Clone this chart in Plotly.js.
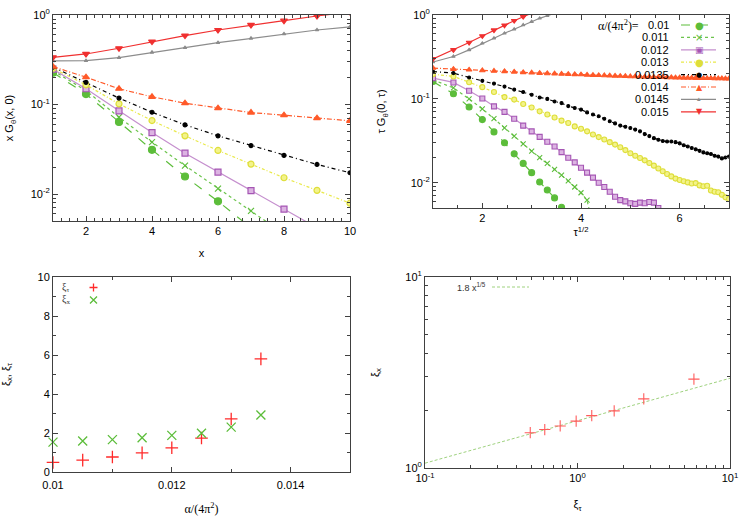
<!DOCTYPE html>
<html>
<head>
<meta charset="utf-8">
<script src="https://cdn.plot.ly/plotly-3.0.1.min.js"></script>
<style>
  body { margin: 0; background: #fff; }
  #plot { width: 753px; height: 518px; }
</style>
</head>
<body>
<div id="plot"></div>
<script>
// alpha/(4 pi^2) labels of the eight runs
var runLabels = ["0.01", "0.011", "0.012", "0.013", "0.0135", "0.014", "0.0145", "0.015"];

// top left: x G(x,0) against x
var xSites = [1, 2, 3, 4, 5, 6, 7, 8, 9, 10];
var gx010  = [0.227, 0.131, 0.064, 0.0312, 0.0157, 0.0083, 0.0042];
var gx011  = [0.239, 0.143, 0.0722, 0.038, 0.0208, 0.0115, 0.0065, 0.0036];
var gx012  = [0.248, 0.150, 0.085, 0.0486, 0.0286, 0.0176, 0.0109, 0.0068, 0.0042, 0.0026];
var gx013  = [0.254, 0.166, 0.1017, 0.0662, 0.0447, 0.0307, 0.0216, 0.0152, 0.011, 0.0079];
var gx0135 = [0.262, 0.177, 0.118, 0.082, 0.0593, 0.0447, 0.0348, 0.027, 0.0214, 0.0173];
var gx014  = [0.265, 0.202, 0.150, 0.122, 0.1035, 0.091, 0.0813, 0.076, 0.0704, 0.0658];
var gx0145 = [0.307, 0.309, 0.334, 0.383, 0.432, 0.491, 0.549, 0.614, 0.68, 0.735];
var gx015  = [0.337, 0.367, 0.425, 0.505, 0.589, 0.68, 0.774, 0.864, 0.975, 1.08];

// top right: tau G(0,tau) against tau^(1/2), tau = 1..49
var tau = [1,2,3,4,5,6,7,8,9,10,11,12,13,14,15,16,17,18,19,20,21,22,23,24,25,
           26,27,28,29,30,31,32,33,34,35,36,37,38,39,40,41,42,43,44,45,46,47,48,49];
var gt010  = [0.161, 0.115, 0.080, 0.0566, 0.0404, 0.030, 0.0221, 0.017, 0.0132, 0.0102, 0.0082, 0.0066, 0.0051, 0.0038];
var gt011  = [0.169, 0.135, 0.0997, 0.076, 0.058, 0.045, 0.0359, 0.029, 0.0238, 0.0199, 0.017, 0.0144,
              0.0123, 0.0105, 0.0089, 0.0076, 0.0062, 0.003];
var gt012  = [0.177, 0.157, 0.125, 0.101, 0.0815, 0.070, 0.058, 0.048, 0.041, 0.0352, 0.0308, 0.027,
              0.0232, 0.0199, 0.0175, 0.0151, 0.0132, 0.0115, 0.010, 0.0089, 0.0078, 0.0068, 0.0062, 0.0060,
              0.0057, 0.0056, 0.0058, 0.0057, 0.0059, 0.0058, 0.0050, 0.0044];
var gt013  = [0.197, 0.185, 0.158, 0.138, 0.121, 0.105, 0.098, 0.087, 0.079,
              0.071, 0.065, 0.060, 0.055, 0.0516, 0.047, 0.044, 0.041, 0.0376, 0.035,
              0.0328, 0.0305, 0.0285, 0.0265, 0.0245, 0.0225, 0.021, 0.0197, 0.0185, 0.0172,
              0.016, 0.0148, 0.0137, 0.0127, 0.0119, 0.0112, 0.0108, 0.0104, 0.0101, 0.0098,
              0.0099, 0.0093, 0.0091, 0.0092, 0.0081, 0.0078, 0.0077, 0.0072, 0.0067, 0.0064];
var gt0135 = [0.212, 0.203, 0.180, 0.164, 0.152, 0.140, 0.129, 0.121, 0.112,
              0.104, 0.100, 0.093, 0.089, 0.082, 0.078, 0.0745, 0.069, 0.065, 0.062,
              0.058, 0.054, 0.051, 0.048, 0.0465, 0.045, 0.043, 0.041, 0.038, 0.036,
              0.034, 0.0325, 0.0315, 0.031, 0.031, 0.0305, 0.0295, 0.028, 0.027, 0.026,
              0.025, 0.024, 0.023, 0.0225, 0.022, 0.021, 0.0205, 0.0195, 0.020, 0.0205];
var gt014  = [0.233, 0.226, 0.222, 0.218, 0.215, 0.213, 0.210, 0.207, 0.205,
              0.203, 0.201, 0.200, 0.198, 0.197, 0.196, 0.195, 0.193, 0.192, 0.191,
              0.190, 0.189, 0.188, 0.187, 0.186, 0.185, 0.185, 0.184, 0.183, 0.183,
              0.182, 0.181, 0.181, 0.180, 0.180, 0.179, 0.179, 0.178, 0.178, 0.178,
              0.177, 0.177, 0.176, 0.176, 0.176, 0.175, 0.175, 0.175, 0.174, 0.174];
var gt0145 = [0.275, 0.32, 0.384, 0.46, 0.528, 0.605, 0.676, 0.76, 0.833, 0.913, 0.98, 1.05, 1.12];
var gt015  = [0.300, 0.384, 0.47, 0.563, 0.66, 0.755, 0.855, 0.955, 1.06, 1.15];

// bottom: correlation lengths
var alphaVals = [0.01, 0.0105, 0.011, 0.0115, 0.012, 0.0125, 0.013, 0.0135];
var xiTau = [0.49, 0.61, 0.77, 0.98, 1.24, 1.74, 2.72, 5.8];
var xiX   = [1.53, 1.59, 1.66, 1.76, 1.88, 1.99, 2.3, 2.92];
var fitX = [0.1, 10];
var fitY = [1.06, 2.95];

// tick labels
var decadeVals = [0.01, 0.1, 1];
var decadeText = ["10<sup>-2</sup>", "10<sup>-1</sup>", "10<sup>0</sup>"];
var alphaTickVals = [0.01, 0.012, 0.014];
var alphaTickText = ["0.01", "0.012", "0.014"];
var xiTickVals = [0.1, 1, 10];
var xiTickText = ["10<sup>-1</sup>", "10<sup>0</sup>", "10<sup>1</sup>"];

var sqrtTau = tau.map(t => Math.sqrt(t));

// per-run styles, same order as runLabels
var styles = [
  {color: "#5cbd3a", dash: "dash", symbol: "circle", size: 7, mcolor: "#5cbd3a", mline: "#5cbd3a", glyph: "●", gsize: 10},
  {color: "#6cc44c", dash: "dot", symbol: "x-thin-open", size: 6, mcolor: "#5cbd3a", mline: "#5cbd3a", glyph: "×", gsize: 10},
  {color: "#c58fce", dash: "solid", symbol: "square", size: 6, mcolor: "#dcb4e2", mline: "#a556b4", glyph: "▣", gsize: 9},
  {color: "#e9e94a", dash: "3px,2px,1px,2px", symbol: "circle", size: 6, mcolor: "#f3f38a", mline: "#dede3a", glyph: "●", gsize: 10},
  {color: "#000000", dash: "4px,3px,1px,3px", symbol: "circle", size: 4, mcolor: "#000000", mline: "#000000", glyph: "●", gsize: 7},
  {color: "#ff5a2a", dash: "5px,2px,1px,2px", symbol: "triangle-up", size: 6, mcolor: "#ff5a2a", mline: "#ff5a2a", glyph: "▲", gsize: 8},
  {color: "#8c8c8c", dash: "solid", symbol: "triangle-up", size: 3, mcolor: "#8c8c8c", mline: "#8c8c8c", glyph: "▴", gsize: 7},
  {color: "#f03030", dash: "solid", symbol: "triangle-down", size: 6, mcolor: "#f03030", mline: "#f03030", glyph: "▼", gsize: 8}
];

var gxSeries = [gx010, gx011, gx012, gx013, gx0135, gx014, gx0145, gx015];
var gtSeries = [gt010, gt011, gt012, gt013, gt0135, gt014, gt0145, gt015];

var data = [];
gxSeries.forEach(function(ys, i) {
  var s = styles[i];
  data.push({
    x: xSites.slice(0, ys.length), y: ys, xaxis: "x", yaxis: "y",
    type: "scatter", mode: "lines+markers", name: runLabels[i], showlegend: false,
    line: {color: s.color, width: 1.2, dash: s.dash},
    marker: {symbol: s.symbol, size: s.size, color: s.mcolor, line: {color: s.mline, width: 1.2}}
  });
});
gtSeries.forEach(function(ys, i) {
  var s = styles[i];
  data.push({
    x: sqrtTau.slice(0, ys.length), y: ys, xaxis: "x2", yaxis: "y2",
    type: "scatter", mode: "lines+markers", name: runLabels[i], showlegend: false,
    line: {color: s.color, width: 1.2, dash: s.dash},
    marker: {symbol: s.symbol, size: Math.max(s.size - 1, 3), color: s.mcolor, line: {color: s.mline, width: 1.1}}
  });
});

// bottom left (open symbols take their stroke colour from marker.color)
data.push({
  x: alphaVals, y: xiTau, xaxis: "x3", yaxis: "y3", type: "scatter", mode: "markers",
  name: "xi_tau", showlegend: false, cliponaxis: false,
  marker: {symbol: "cross-thin-open", size: 9, color: "#ff2a2a", line: {width: 1.3}}
});
data.push({
  x: alphaVals, y: xiX, xaxis: "x3", yaxis: "y3", type: "scatter", mode: "markers",
  name: "xi_x", showlegend: false, cliponaxis: false,
  marker: {symbol: "x-thin-open", size: 9, color: "#5cbd3a", line: {width: 1.3}}
});

// bottom right
data.push({
  x: fitX, y: fitY, xaxis: "x4", yaxis: "y4", type: "scatter", mode: "lines",
  name: "fit", showlegend: false,
  line: {color: "#9fd27f", width: 1, dash: "3px,2px"}
});
data.push({
  x: xiTau, y: xiX, xaxis: "x4", yaxis: "y4", type: "scatter", mode: "markers",
  name: "xi", showlegend: false, cliponaxis: false,
  marker: {symbol: "cross-thin-open", size: 8, color: "#ff5c5c", line: {width: 1.1}}
});

function px(x) { return x / 753; }
function py(y) { return 1 - y / 518; }

var tickFont = {family: "Liberation Sans, Arial, sans-serif", size: 11, color: "#000"};
var titleFont = {family: "Liberation Sans, Arial, sans-serif", size: 11, color: "#000"};

function axis(extra) {
  var a = {
    showline: true, linecolor: "#404040", linewidth: 1, mirror: "allticks",
    ticks: "inside", ticklen: 5, tickcolor: "#404040", tickwidth: 1,
    showgrid: false, zeroline: false, tickfont: tickFont
  };
  for (var k in extra) a[k] = extra[k];
  return a;
}
var logMinor = {ticks: "inside", ticklen: 3, tickcolor: "#404040", dtick: "D1", showgrid: false};

var layout = {
  width: 753, height: 518,
  margin: {l: 0, r: 0, t: 0, b: 0},
  paper_bgcolor: "#fff", plot_bgcolor: "#fff",
  showlegend: false,
  xaxis: axis({domain: [px(53), px(350)], range: [1, 10], anchor: "y", dtick: 2,
    minor: {ticks: "inside", ticklen: 3, tickcolor: "#404040", dtick: 0.25},
    title: {text: "x", font: titleFont, standoff: 13}}),
  yaxis: axis({domain: [py(221), py(15)], type: "log", range: [Math.log10(0.005), 0], anchor: "x",
    tickvals: decadeVals, ticktext: decadeText, minor: logMinor,
    title: {text: "x G<sub>θ</sub>(x, 0)", font: titleFont, standoff: 14}}),
  xaxis2: axis({domain: [px(433), px(729)], range: [1, 7], anchor: "y2", dtick: 2,
    minor: {ticks: "inside", ticklen: 3, tickcolor: "#404040", dtick: 0.5},
    title: {text: "τ<sup>1/2</sup>", font: titleFont, standoff: 5}}),
  yaxis2: axis({domain: [py(208), py(15)], type: "log", range: [Math.log10(0.005), 0], anchor: "x2",
    tickvals: decadeVals, ticktext: decadeText, minor: logMinor,
    title: {text: "τ G<sub>θ</sub>(0, τ)", font: titleFont, standoff: 22}}),
  xaxis3: axis({domain: [px(53), px(350)], range: [0.01, 0.015], anchor: "y3",
    tickvals: alphaTickVals, ticktext: alphaTickText, ticklabelstandoff: 3,
    minor: {ticks: "inside", ticklen: 3, tickcolor: "#404040", dtick: 0.001, tick0: 0.01},
    title: {text: "α/(4π<sup>2</sup>)", font: {family: "Liberation Serif, serif", size: 12, color: "#000"}, standoff: 14}}),
  yaxis3: axis({domain: [py(472), py(277)], range: [0, 10], anchor: "x3", dtick: 2,
    minor: {ticks: "inside", ticklen: 3, tickcolor: "#404040", dtick: 1},
    title: {text: "ξ<sub>x</sub>, ξ<sub>τ</sub>", font: titleFont, standoff: 27}}),
  xaxis4: axis({domain: [px(425), px(730)], type: "log", range: [-1, 1], anchor: "y4",
    tickvals: xiTickVals, ticktext: xiTickText, minor: logMinor,
    title: {text: "ξ<sub>τ</sub>", font: titleFont, standoff: 17}}),
  yaxis4: axis({domain: [py(468), py(277)], type: "log", range: [0, 1], anchor: "x4",
    tickvals: [1, 10], ticktext: ["10<sup>0</sup>", "10<sup>1</sup>"], minor: logMinor,
    title: {text: "ξ<sub>x</sub>", font: titleFont, standoff: 23}}),
  shapes: [],
  annotations: []
};

// gnuplot style key in the top right panel: label, line sample, marker
var rowY = [25, 37.4, 49.8, 62.2, 74.6, 87, 99.4, 111.8];
layout.annotations.push({
  xref: "paper", yref: "paper", x: px(641), y: py(25), xanchor: "right", yanchor: "middle",
  text: "α/(4π<sup>2</sup>)=", showarrow: false,
  font: {family: "Liberation Serif, serif", size: 12, color: "#000"}
});
runLabels.forEach(function(lab, i) {
  var s = styles[i];
  layout.annotations.push({
    xref: "paper", yref: "paper", x: px(671), y: py(rowY[i]), xanchor: "right", yanchor: "middle",
    text: lab, showarrow: false, font: {family: "Liberation Sans, Arial, sans-serif", size: 11, color: "#000"}
  });
  layout.shapes.push({
    type: "line", xref: "paper", yref: "paper",
    x0: px(681), x1: px(716), y0: py(rowY[i]), y1: py(rowY[i]),
    line: {color: s.color, width: 1.2, dash: s.dash}
  });
  layout.annotations.push({
    xref: "paper", yref: "paper", x: px(699), y: py(rowY[i]), xanchor: "center", yanchor: "middle",
    text: s.glyph, showarrow: false, font: {family: "DejaVu Sans", size: s.gsize, color: s.mline}
  });
});

// key of the bottom left panel
layout.annotations.push(
  {xref: "paper", yref: "paper", x: px(60), y: py(287), xanchor: "left", yanchor: "middle",
   text: "ξ<sub>τ</sub>", showarrow: false, font: {family: "Liberation Serif, serif", size: 10, color: "#333"}},
  {xref: "paper", yref: "paper", x: px(60), y: py(299.5), xanchor: "left", yanchor: "middle",
   text: "ξ<sub>x</sub>", showarrow: false, font: {family: "Liberation Serif, serif", size: 10, color: "#333"}}
);
// key markers drawn as small paths (+ and x, 4 px arms)
function plusPath(cx, cy, r) {
  return "M" + px(cx - r) + "," + py(cy) + " L" + px(cx + r) + "," + py(cy) +
         " M" + px(cx) + "," + py(cy - r) + " L" + px(cx) + "," + py(cy + r);
}
function crossPath(cx, cy, r) {
  return "M" + px(cx - r) + "," + py(cy - r) + " L" + px(cx + r) + "," + py(cy + r) +
         " M" + px(cx - r) + "," + py(cy + r) + " L" + px(cx + r) + "," + py(cy - r);
}
layout.shapes.push(
  {type: "path", xref: "paper", yref: "paper", path: plusPath(93.5, 287.5, 4), line: {color: "#ff2a2a", width: 1.3}},
  {type: "path", xref: "paper", yref: "paper", path: crossPath(93.5, 300, 3.5), line: {color: "#5cbd3a", width: 1.3}}
);

// key of the bottom right panel
layout.annotations.push({
  xref: "paper", yref: "paper", x: px(488), y: py(287), xanchor: "right", yanchor: "middle",
  text: "1.8 x<sup>1/5</sup>", showarrow: false,
  font: {family: "Liberation Sans, Arial, sans-serif", size: 9, color: "#333"}
});
layout.shapes.push({
  type: "line", xref: "paper", yref: "paper", x0: px(492), x1: px(529), y0: py(287), y1: py(287),
  line: {color: "#9fd27f", width: 1, dash: "3px,2px"}
});

Plotly.newPlot("plot", data, layout, {displayModeBar: false, staticPlot: true});
</script>
</body>
</html>
